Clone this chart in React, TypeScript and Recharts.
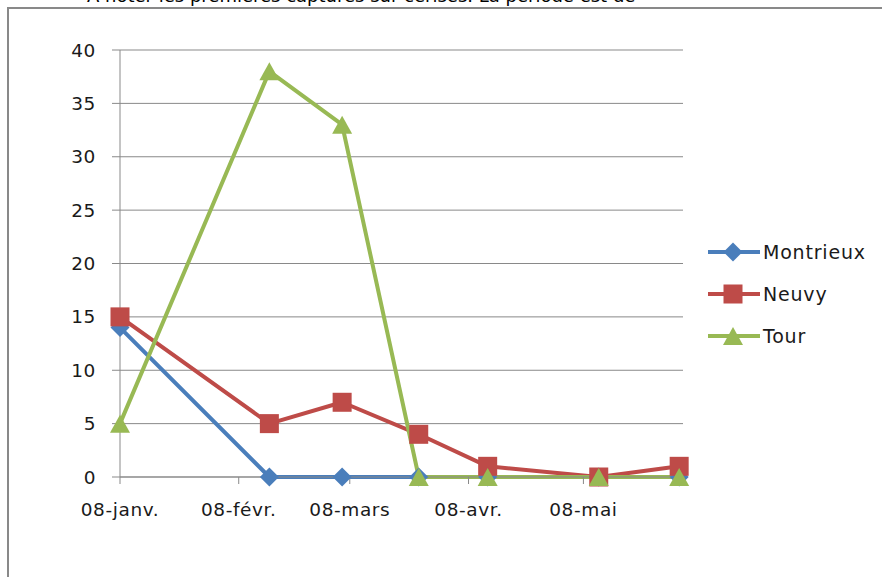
import React from 'react';
import { LineChart, Line, XAxis, YAxis, CartesianGrid, Legend } from 'recharts';

const dates = ['2008-01-08', '2008-02-16', '2008-03-06', '2008-03-26', '2008-04-13', '2008-05-12', '2008-06-02'];
const montrieux = [14, 0, 0, 0, 0, 0, 0];
const neuvy = [15, 5, 7, 4, 1, 0, 1];
const tour = [5, 38, 33, 0, 0, 0, 0];
const tickDates = ['2008-01-08', '2008-02-08', '2008-03-08', '2008-04-08', '2008-05-08'];
const tickLabels = ['08-janv.', '08-févr.', '08-mars', '08-avr.', '08-mai'];
const yTicks = [0, 5, 10, 15, 20, 25, 30, 35, 40];
const domainStart = '2008-01-08';
const domainEnd = '2008-06-03';
const seriesNames = ['Montrieux', 'Neuvy', 'Tour'];
const seriesColors = ['#4A7EBB', '#BE4B48', '#98B954'];
const seriesShapes = ['diamond', 'square', 'triangle'];
const headerText = 'A noter les premières captures sur cerises. La période est de';

const data = dates.map((d, i) => ({
  t: Date.parse(d),
  Montrieux: montrieux[i],
  Neuvy: neuvy[i],
  Tour: tour[i],
}));
const tickValues = tickDates.map((d) => Date.parse(d));
const labelFor = (v: number) => {
  const i = tickValues.indexOf(v);
  return i >= 0 ? tickLabels[i] : '';
};

const GRAY = '#898989';
const FONT = '"DejaVu Sans", sans-serif';

function marker(shape: string, cx: number, cy: number, color: string, key?: any) {
  if (shape === 'diamond') {
    const r = 9.5;
    return <path key={key} d={`M${cx},${cy - r} L${cx + r},${cy} L${cx},${cy + r} L${cx - r},${cy} Z`} fill={color} />;
  }
  if (shape === 'square') {
    const r = 9.5;
    return <rect key={key} x={cx - r} y={cy - r} width={2 * r} height={2 * r} fill={color} />;
  }
  const w = 10, h = 9;
  return <path key={key} d={`M${cx},${cy - h} L${cx + w},${cy + h} L${cx - w},${cy + h} Z`} fill={color} />;
}

const makeDot = (idx: number) => (props: any) => {
  const { cx, cy, index } = props;
  if (cx == null || cy == null) return <g key={`n${index}`} />;
  return marker(seriesShapes[idx], cx, cy, seriesColors[idx], `${seriesNames[idx]}-${index}`);
};

const LegendContent = () => (
  <svg width={182} height={130} style={{ display: 'block' }}>
    {seriesNames.map((name, i) => {
      const y = 22 + i * 42;
      return (
        <g key={name}>
          <line x1={8} x2={60} y1={y} y2={y} stroke={seriesColors[i]} strokeWidth={4} />
          {marker(seriesShapes[i], 33, y, seriesColors[i])}
          <text x={63} y={y} dy="0.36em" fontFamily={FONT} fontSize={19} letterSpacing={0.8} fill="#1a1a1a">
            {name}
          </text>
        </g>
      );
    })}
  </svg>
);

export default function App() {
  return (
    <div style={{ position: 'absolute', left: 0, top: 0, width: 882, height: 577, overflow: 'hidden', background: '#fff' }}>
      <div
        style={{
          position: 'absolute',
          left: 87,
          top: -13,
          fontFamily: FONT,
          fontSize: 18,
          lineHeight: '18px',
          whiteSpace: 'nowrap',
          color: '#000',
        }}
      >
        {headerText}
      </div>
      <div
        style={{
          position: 'absolute',
          left: 7,
          top: 7,
          width: 880,
          height: 580,
          borderLeft: `2px solid ${GRAY}`,
          borderTop: `2px solid ${GRAY}`,
          boxSizing: 'border-box',
        }}
      />
      <div style={{ position: 'absolute', left: 0, top: 0 }}>
        <LineChart width={882} height={577} data={data} margin={{ top: 50, right: 199, bottom: 0, left: 0 }}>
          <CartesianGrid horizontal={true} vertical={false} stroke={GRAY} strokeWidth={1} />
          <XAxis
            dataKey="t"
            type="number"
            domain={[Date.parse(domainStart), Date.parse(domainEnd)]}
            ticks={tickValues}
            tickFormatter={labelFor}
            height={100}
            tickSize={7}
            tickMargin={19}
            axisLine={{ stroke: GRAY, strokeWidth: 1 }}
            tickLine={{ stroke: GRAY, strokeWidth: 1 }}
            tick={{ fontFamily: FONT, fontSize: 18.5, fill: '#1a1a1a', letterSpacing: 0.6 }}
            interval={0}
          />
          <YAxis
            type="number"
            domain={[0, 40]}
            ticks={yTicks}
            width={120}
            tickSize={8}
            tickMargin={16}
            axisLine={{ stroke: GRAY, strokeWidth: 1 }}
            tickLine={{ stroke: GRAY, strokeWidth: 1 }}
            tick={{ fontFamily: FONT, fontSize: 18.5, fill: '#1a1a1a', letterSpacing: 0.6 }}
            interval={0}
          />
          <Legend
            layout="vertical"
            align="center"
            verticalAlign="middle"
            wrapperStyle={{ left: 700, top: 230, width: 182, height: 130 }}
            content={<LegendContent />}
          />
          {seriesNames.map((name, i) => (
            <Line
              key={name}
              type="linear"
              dataKey={name}
              stroke={seriesColors[i]}
              strokeWidth={4}
              strokeLinejoin="round"
              dot={makeDot(i)}
              activeDot={false}
              isAnimationActive={false}
            />
          ))}
        </LineChart>
      </div>
    </div>
  );
}
